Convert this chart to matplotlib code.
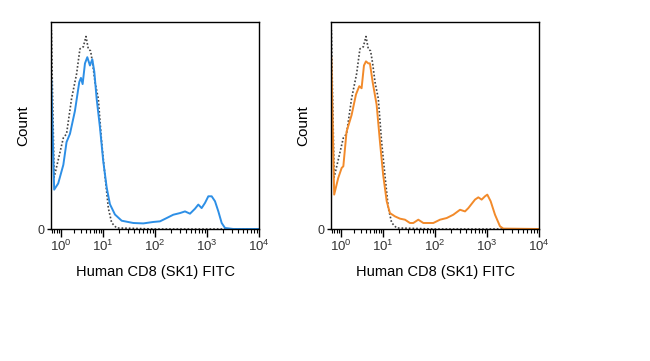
import numpy as np
import matplotlib.pyplot as plt
from matplotlib.ticker import FixedLocator, NullFormatter

plt.rcParams['font.family'] = ['Liberation Sans', 'DejaVu Sans']
plt.rcParams['mathtext.fontset'] = 'custom'
plt.rcParams['mathtext.rm'] = 'Liberation Sans'
plt.rcParams['mathtext.it'] = 'Liberation Sans'

# Isotype control (dotted), same in both panels
iso_x = [0.58, 0.59, 0.69, 1.14, 1.36, 1.79, 2.36, 2.83, 3.40, 3.94, 4.48, 5.08,
         5.68, 6.46, 7.74, 9.29, 10.9, 12.7, 14.7, 18.3, 100, 10000]
iso_y = [0, 96, 25, 44, 46, 63, 75, 87, 88, 93, 87, 86,
         80, 71, 63, 42, 26, 10, 3, 0.5, 0, 0]

# Left panel: blue stained sample
blue_x = [0.58, 0.59, 0.69, 0.86, 1.14, 1.36, 1.64, 2.15, 2.73, 2.99, 3.28, 3.73,
          4.24, 4.90, 5.57, 6.22, 7.07, 8.49, 10.1, 11.8, 13.6, 17.0, 22.9, 38.3,
          59.7, 92.9, 125, 168, 225, 303, 378, 471, 588, 681, 789, 916, 1061,
          1230, 1426, 1653, 1916, 2220, 3206, 10000]
blue_y = [0, 72, 19, 22, 31, 42, 46, 57, 71, 73, 70, 80,
          83, 79, 82, 76, 63, 49, 33, 20, 12, 7, 4, 2.9,
          2.7, 3.4, 3.7, 5.3, 6.9, 7.7, 8.5, 7.4, 9.8, 11.8, 10.1, 12.6, 15.8,
          15.8, 13.4, 8.5, 2.9, 0.5, 0, 0]

# Right panel: orange stained sample
orange_x = [0.58, 0.59, 0.69, 0.86, 1.04, 1.14, 1.36, 1.79, 2.28, 2.73, 3.10, 3.53,
            3.94, 4.48, 4.90, 5.68, 7.07, 8.49, 10.1, 11.8, 13.6, 17.0, 21.2, 26.5,
            33.0, 38.3, 47.8, 59.7, 92.9, 125, 168, 225, 303, 378, 438, 588, 681,
            789, 916, 1014, 1177, 1426, 1778, 2061, 10000]
orange_y = [0, 83, 16.6, 24.6, 29.5, 30.3, 47, 55, 65, 69, 68, 79,
            81, 80, 80, 71, 60, 42, 26, 13.4, 7.7, 6.1, 5.0, 4.5,
            2.9, 2.9, 4.5, 2.9, 2.9, 4.5, 5.3, 6.9, 9.3, 8.5, 10.1, 14.2, 15.3,
            14.2, 15.8, 16.6, 13.4, 6.9, 1.3, 0.2, 0]

decades = [1, 10, 100, 1000, 10000]
decade_labels = ['$10^0$', '$10^1$', '$10^2$', '$10^3$', '$10^4$']
xlabel = 'Human CD8 (SK1) FITC'

FIRST = 0.808  # first decade is drawn a bit narrower


def fwd(x):
    lx = np.log10(np.clip(x, 1e-3, None))
    return np.where(lx >= 1, lx, 1 - FIRST * (1 - lx))


def inv(y):
    y = np.asarray(y, dtype=float)
    return np.where(y >= 1, 10.0 ** y, 10.0 ** (1 - (1 - y) / FIRST))


minor = [m * d for d in [0.1, 1, 10, 100, 1000] for m in range(2, 10)]
minor = [v for v in minor if 0.58 <= v <= 10000]

fig = plt.figure(figsize=(6.5, 3.61), dpi=100)
panels = [(51, blue_x, blue_y, '#2d8fe6'), (331, orange_x, orange_y, '#f28a2a')]

for left, sx, sy, col in panels:
    ax = fig.add_axes([left / 650, 1 - 229 / 361, 208 / 650, 207 / 361])
    ax.set_xscale('function', functions=(fwd, inv))
    ax.plot(iso_x, iso_y, color='#444444', lw=1.2, ls=(0, (1, 1.2)))
    ax.plot(sx, sy, color=col, lw=1.4)
    ax.set_xlim(0.58, 10000)
    ax.set_ylim(0, 100)
    ax.xaxis.set_major_locator(FixedLocator(decades))
    ax.xaxis.set_minor_locator(FixedLocator(minor))
    ax.xaxis.set_minor_formatter(NullFormatter())
    ax.set_xticklabels(decade_labels)
    ax.set_yticks([0])
    ax.set_yticklabels(['0'])
    ax.tick_params(axis='x', which='major', length=6, width=1, direction='out',
                   labelsize=9.5, labelcolor='#333333', pad=1)
    ax.tick_params(axis='x', which='minor', length=3, width=0.8, direction='out')
    ax.tick_params(axis='y', length=3, width=1, labelsize=9, labelcolor='#333333', pad=2)
    for s in ax.spines.values():
        s.set_linewidth(1.0)
        s.set_color('black')
    ax.set_xlabel(xlabel, fontsize=10.5, labelpad=8)
    ax.set_ylabel('Count', fontsize=11, labelpad=5)

fig.savefig('out.png', dpi=100)
